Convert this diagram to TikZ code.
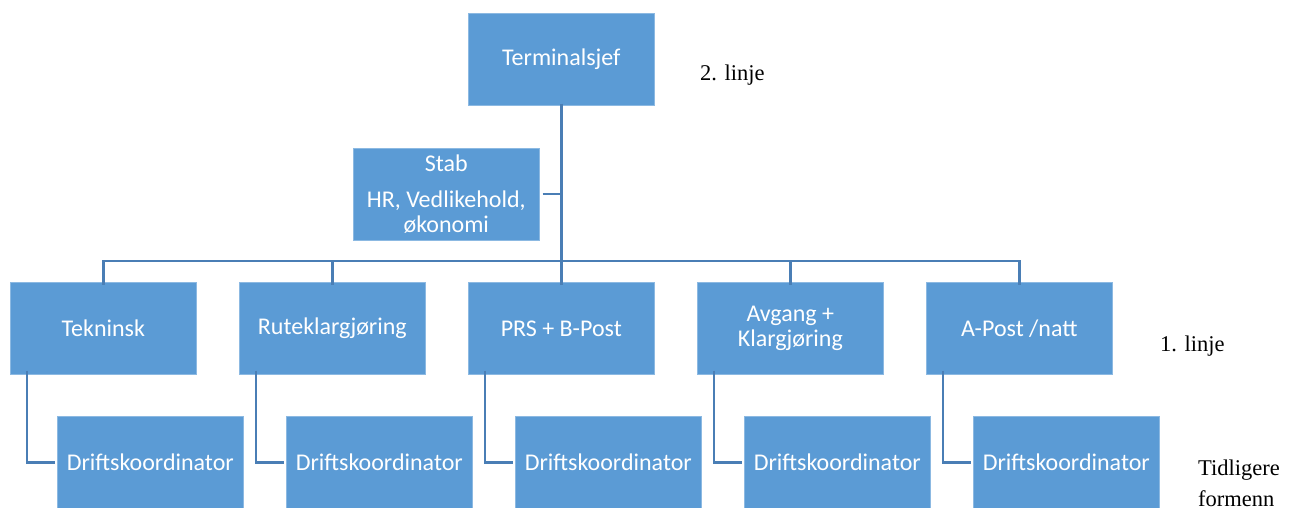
\documentclass[tikz,border=0pt]{standalone}
\usepackage{fontspec}
\setmainfont{Liberation Serif}
\newfontfamily\boxfont{Carlito}
\definecolor{boxblue}{HTML}{5B9BD5}
\definecolor{lineblue}{HTML}{4A7EB5}
\begin{document}
\begin{tikzpicture}[x=1pt,y=-1pt,
  orgbox/.style={fill=boxblue,draw=boxblue!70!white,line width=0.6pt,minimum width=186pt,minimum height=92pt,inner sep=0pt,text=white,font=\boxfont\fontsize{24}{25.5}\selectfont,align=center,anchor=north west},
  conn/.style={draw=lineblue,line width=2.6pt},
  lab/.style={font=\fontsize{22.5}{30}\selectfont,anchor=west,inner sep=0pt}]
\useasboundingbox (0,0) rectangle (1301,507);
\clip (0,0) rectangle (1301,507);
% top
\node[orgbox] (ts) at (468,13) {Terminalsjef};
\node[orgbox] (stab) at (353,148) {Stab\\[10pt]HR, Vedlikehold,\\økonomi};
% level 1
\node[orgbox] (t1) at (10,282) {Tekninsk};
\node[orgbox] (t2) at (239,282) {Ruteklargjøring};
\node[orgbox] (t3) at (468,282) {PRS + B-Post};
\node[orgbox] (t4) at (697,282) {Avgang +\\Klargjøring};
\node[orgbox] (t5) at (926,282) {A-Post /natt};
% level 2
\node[orgbox] (d1) at (57,416) {Driftskoordinator};
\node[orgbox] (d2) at (286,416) {Driftskoordinator};
\node[orgbox] (d3) at (515,416) {Driftskoordinator};
\node[orgbox] (d4) at (744,416) {Driftskoordinator};
\node[orgbox] (d5) at (973,416) {Driftskoordinator};
% bus
\coordinate (bus) at (561,261);
\coordinate (sj) at (561,194);
\draw[conn] ([yshift=2pt]ts.south) -- ([yshift=-3pt]t3.north);
\draw[conn] ([xshift=3pt]stab.east |- sj) -- (sj);
\draw[conn,line cap=rect] (t1.north |- bus) -- (t5.north |- bus);
\foreach \n in {t1,t2,t4,t5}{
  \draw[conn] (\n.north |- bus) -- ([yshift=-3pt]\n.north);
}
\foreach \a/\b in {t1/d1,t2/d2,t3/d3,t4/d4,t5/d5}{
  \draw[conn] ([xshift=17pt,yshift=4pt]\a.south west) |- ([xshift=-2pt]\b.west);
}
% labels
\node[lab] (l2) at (700,75) {2. linje};
\node[lab] (l1) at (1160,346) {1. linje};
\node[lab,align=left,anchor=north west] (l0) at (1198,460) {Tidligere\\[1pt]formenn};
\end{tikzpicture}
\end{document}
